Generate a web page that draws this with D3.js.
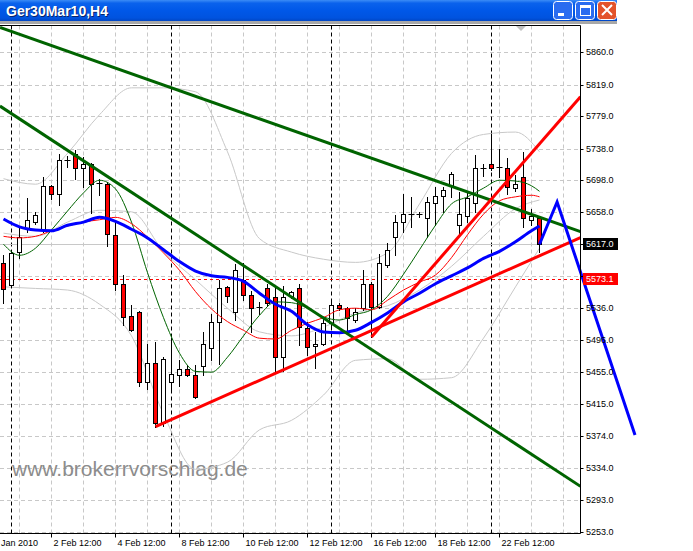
<!DOCTYPE html>
<html><head><meta charset="utf-8">
<script src="https://cdn.jsdelivr.net/npm/d3@7/dist/d3.min.js"></script>
<style>html,body{margin:0;padding:0;background:#fff;overflow:hidden}svg{display:block}</style>
</head><body>
<svg id="chart" width="693" height="551"></svg>
<script>
// ---------------- DATA ----------------
const titleText = "Ger30Mar10,H4";
const watermark = "www.brokerrvorschlag.de";
// H4 candles, bar index 0..67
const opens  = [5593,5565,5607,5638,5645,5635,5691,5680,5723,5731,5713,5718,5694.5,5693,5629,5566,5526,5531,5442,5466,5391,5442,5452,5459,5451,5463,5486,5518,5563,5531,5572,5553,5536,5561,5550,5474,5551,5561,5511,5488,5491,5517,5540,5536,5521,5536,5567,5538,5591,5626,5645,5655,5654,5650,5669,5678,5691,5641,5653,5669,5713,5719,5714,5714,5688,5702,5648,5650];
const highs  = [5603,5607,5637,5675,5658,5702,5692,5731,5729,5736,5728,5720,5699,5696,5645,5578,5540,5532,5491,5493,5474,5498,5470,5464,5464,5506,5529,5572,5564,5592,5593,5558,5544,5567,5563,5564,5558,5566,5518,5506,5523,5544,5542,5538,5536,5584,5569,5605,5618,5654,5681,5677,5658,5677,5690,5690,5709,5683,5683,5730,5718,5756,5738,5726,5705,5734,5662,5653];
const lows   = [5542,5563,5599,5633,5643,5633,5674,5667,5715,5700,5690,5656,5679,5615,5559,5515,5507,5437,5434,5386,5387,5434,5437,5450,5422,5451,5470,5465,5544,5521,5546,5506,5529,5539,5454,5456,5549,5489,5477,5460,5489,5513,5534,5508,5518,5534,5500,5536,5588,5603,5633,5639,5651,5626,5641,5658,5677,5629,5645,5658,5704,5711,5702,5681,5685,5639,5641,5607];
const closes = [5560,5606,5626,5648,5654,5691,5680,5724,5724,5713,5719,5693,5694,5630,5566,5525,5508,5442,5466,5391,5472,5453,5459,5451,5424,5491,5518,5562,5551,5584,5553,5536,5537,5542,5474,5550,5556,5512,5487,5491,5517,5540,5536,5523,5531,5567,5537,5593,5610,5645,5655,5654,5655,5670,5678,5686,5706,5655,5676,5713,5714,5714,5714.5,5690,5693,5650,5653,5617];

// moving averages read every 2 bars (bars 0,2,...,66, 67)
const maBars2 = [0,2,4,6,8,10,12,14,16,18,20,22,24,26,28,30,32,34,36,38,40,42,44,46,48,50,52,54,56,58,60,62,64,66,67];
const maBlue  = [5649,5639,5635,5634,5641,5645,5651,5646,5636,5625,5610,5595,5583,5577,5575,5570,5555,5541,5532,5515,5506,5505,5508,5518,5530,5544,5555,5567,5577,5587,5599,5608,5620,5634,5640];
const maRed   = [5627,5625,5627,5634,5640,5645,5648,5651,5643,5626,5606,5584,5557,5535,5519,5508,5498,5497,5508,5517,5524,5534,5536,5534,5546,5559,5569,5578,5600,5629,5655,5672,5677,5679,5677];
const maGreen = [5617,5603,5612,5635,5659,5682,5698,5687,5645,5581,5524,5479,5456,5455,5474,5501,5527,5544,5543,5536,5525,5521,5528,5534,5551,5579,5610,5641,5668,5677,5688,5698,5697,5691,5684];

// Bollinger bands read every 4 bars
const bbBars  = [0,4,8,12,16,20,24,28,32,36,40,44,48,52,56,60,64,67];
const bbUpper = [5700,5693,5732,5781,5815,5815,5810,5734,5624,5607,5598,5594,5606,5668,5732,5756,5759,5734];
const bbMid   = [5631,5627,5645,5660,5658,5608,5572,5536,5506,5501,5512,5530,5539,5559,5589,5627,5662,5673];
const bbLower = [5563,5561,5559,5541,5501,5402,5332,5341,5382,5394,5426,5470,5472,5446,5448,5498,5563,5612];

// trend lines: [bar, price] anchors
const greenLine1 = [[10,5854.2],[60,5676.1]];
const greenLine2 = [[10,5722.6],[50,5457.2]];
const redLineA   = [[19,5386],[46,5507.7]];
const redLineB   = [[46,5499.5],[65,5720.8]];
const forecast   = [[67,5617],[69.2,5670.4],[78.94,5375.4]];

const priceTicks = [5860.0,5819.0,5779.0,5738.0,5698.0,5658.0,5617.0,5577.0,5536.0,5496.0,5455.0,5415.0,5374.0,5334.0,5293.0,5253.0];
const hiddenTickLabels = [5617.0,5577.0]; // covered by the price boxes
const dateLabels = ["Jan 2010","2 Feb 12:00","4 Feb 12:00","8 Feb 12:00","10 Feb 12:00","12 Feb 12:00","16 Feb 12:00","18 Feb 12:00","22 Feb 12:00"];
const dateBars   = [-0.55,6,14,22,30,38,46,54,62];
const weekStarts = [1,21,41,61];
const bidPrice = 5617.0;
const levelPrice = 5573.1;

// ---------------- DRAW ----------------
const svg = d3.select("#chart");
const FONT = "'Liberation Sans', Arial, sans-serif";
const plotL = 0, plotR = 580.5, plotT = 25.5, plotB = 533.5;
const x = d3.scaleLinear().domain([0,67]).range([3.5,539.5]);
const y = d3.scaleLinear().domain([5253,5860]).range([531.7,52.3]);
const cy = p => Math.round(y(p)) + 0.5;

// title bar
const defs = svg.append("defs");
const tg = defs.append("linearGradient").attr("id","tb").attr("x1",0).attr("y1",0).attr("x2",0).attr("y2",1);
[[0,"#3b8cf6"],[0.15,"#0a62ec"],[0.5,"#0058e8"],[0.85,"#0053df"],[1,"#0046c4"]]
  .forEach(([o,c])=>tg.append("stop").attr("offset",o).attr("stop-color",c));
svg.append("rect").attr("x",0).attr("y",0).attr("width",617).attr("height",21).attr("fill","url(#tb)");
svg.append("rect").attr("x",0).attr("y",21).attr("width",617).attr("height",3).attr("fill","#a8a8a8");
svg.append("text").attr("x",7).attr("y",17).text(titleText)
  .attr("font-family",FONT).attr("font-weight","bold").attr("font-size",14).attr("fill","#0a246a");
svg.append("text").attr("x",6).attr("y",16).text(titleText)
  .attr("font-family",FONT).attr("font-weight","bold").attr("font-size",14).attr("fill","#fff");
// window buttons
const btn = (bx, fill) => svg.append("rect").attr("x",bx+0.5).attr("y",1.5).attr("width",19).attr("height",18)
  .attr("rx",3).attr("fill",fill).attr("stroke","#fff").attr("stroke-width",1);
btn(553,"#2a6cf0"); btn(575,"#2a6cf0"); btn(597,"#e3532b");
svg.append("rect").attr("x",558).attr("y",13).attr("width",6).attr("height",3).attr("fill","#fff");
svg.append("rect").attr("x",580.5).attr("y",5.5).attr("width",10).attr("height",10).attr("fill","none").attr("stroke","#fff").attr("stroke-width",1);
svg.append("rect").attr("x",580).attr("y",5).attr("width",11).attr("height",3).attr("fill","#fff");
svg.append("path").attr("d","M602,5L612,15M612,5L602,15").attr("stroke","#fff").attr("stroke-width",2);

// clip for plot
defs.append("clipPath").attr("id","plot").append("rect")
  .attr("x",plotL).attr("y",plotT).attr("width",plotR-plotL).attr("height",plotB-plotT);

const grid = svg.append("g");
grid.selectAll("line.h").data(priceTicks).join("line")
  .attr("x1",plotL).attr("x2",plotR).attr("y1",d=>cy(d)).attr("y2",d=>cy(d))
  .attr("stroke","#c8c8c8").attr("stroke-dasharray","4,3");
const gridBars = d3.range(2, 72, 4).filter(b => x(b) < plotR);
grid.selectAll("line.v").data(gridBars).join("line")
  .attr("x1",d=>x(d)).attr("x2",d=>x(d)).attr("y1",plotT).attr("y2",plotB)
  .attr("stroke","#c8c8c8").attr("stroke-dasharray","4,3");
svg.append("g").selectAll("line").data(weekStarts).join("line")
  .attr("x1",d=>x(d)).attr("x2",d=>x(d)).attr("y1",plotT).attr("y2",plotB)
  .attr("stroke","#000").attr("stroke-dasharray","4,3");

// bid line & level line
svg.append("line").attr("x1",plotL).attr("x2",plotR).attr("y1",cy(bidPrice)).attr("y2",cy(bidPrice))
  .attr("stroke","#c8c8c8");
svg.append("line").attr("x1",plotL).attr("x2",plotR).attr("y1",cy(levelPrice)).attr("y2",cy(levelPrice))
  .attr("stroke","#ff0000").attr("stroke-dasharray","3,3");

// watermark
svg.append("text").attr("x",12).attr("y",476).text(watermark)
  .attr("font-family",FONT).attr("font-size",21).attr("fill","#8c8c8c");

// Bollinger bands (behind candles)
const mkLine = (bars, vals) => d3.line().x((d,k)=>x(bars[k])).y(d=>y(d)).curve(d3.curveMonotoneX)(vals);
const bg = svg.append("g").attr("clip-path","url(#plot)");
[bbUpper,bbMid,bbLower].forEach(v=>bg.append("path").attr("d",mkLine(bbBars,v)).attr("fill","none").attr("stroke","#c8c8c8"));

// candles
const cg = svg.append("g").attr("clip-path","url(#plot)");
const idx = d3.range(opens.length);
cg.selectAll("line.w").data(idx).join("line")
  .attr("x1",i=>x(i)).attr("x2",i=>x(i))
  .attr("y1",i=>Math.round(y(highs[i]))).attr("y2",i=>Math.round(y(lows[i]))+1)
  .attr("stroke","#000");
idx.forEach(i=>{
  const top = Math.round(y(Math.max(opens[i],closes[i])));
  const bot = Math.round(y(Math.min(opens[i],closes[i])));
  const bull = closes[i] >= opens[i];
  if (bot - top < 2) {
    cg.append("line").attr("x1",x(i)-3).attr("x2",x(i)+3).attr("y1",top+0.5).attr("y2",top+0.5).attr("stroke","#000");
  } else {
    cg.append("rect").attr("x",x(i)-2).attr("y",top+0.5).attr("width",4).attr("height",bot-top)
      .attr("fill", bull ? "#fff" : "#ff0000").attr("stroke","#000");
  }
});

// moving averages
const lg = svg.append("g").attr("clip-path","url(#plot)");
lg.append("path").attr("d",mkLine(maBars2,maGreen)).attr("fill","none").attr("stroke","#006400");
lg.append("path").attr("d",mkLine(maBars2,maRed)).attr("fill","none").attr("stroke","#ff0000");
lg.append("path").attr("d",mkLine(maBars2,maBlue)).attr("fill","none").attr("stroke","#0000ff").attr("stroke-width",3);

// trend lines (extended rays)
const tl = svg.append("g").attr("clip-path","url(#plot)");
function ray(a, extendLeft, color) {
  const [b1,p1] = a[0], [b2,p2] = a[1];
  const x1 = x(b1), y1 = y(p1), x2 = x(b2), y2 = y(p2);
  const s = (y2-y1)/(x2-x1);
  const xs = extendLeft ? plotL : x1, xe = plotR;
  tl.append("line").attr("x1",xs).attr("y1",y1+(xs-x1)*s).attr("x2",xe).attr("y2",y1+(xe-x1)*s)
    .attr("stroke",color).attr("stroke-width",3);
}
ray(greenLine1,true,"#006400");
ray(greenLine2,true,"#006400");
ray(redLineA,false,"#ff0000");
ray(redLineB,false,"#ff0000");
svg.append("path").attr("d", d3.line().x(d=>x(d[0])).y(d=>y(d[1]))(forecast))
  .attr("fill","none").attr("stroke","#0000ff").attr("stroke-width",3);

// chart shift marker
svg.append("path").attr("d","M516,26L526,26L521,31Z").attr("fill","#c0c0c0");

// axes
svg.append("line").attr("x1",plotL).attr("x2",plotR).attr("y1",plotT).attr("y2",plotT).attr("stroke","#000");
svg.append("line").attr("x1",plotR).attr("x2",plotR).attr("y1",plotT).attr("y2",plotB).attr("stroke","#000");
svg.append("line").attr("x1",plotL).attr("x2",plotR).attr("y1",plotB).attr("y2",plotB).attr("stroke","#000");
const ya = svg.append("g");
ya.selectAll("line").data(priceTicks).join("line")
  .attr("x1",plotR).attr("x2",plotR+3).attr("y1",d=>cy(d)).attr("y2",d=>cy(d)).attr("stroke","#000");
ya.selectAll("text").data(priceTicks.filter(p=>!hiddenTickLabels.includes(p))).join("text")
  .attr("x",586).attr("y",d=>y(d)).attr("dy","0.35em").text(d=>d.toFixed(1))
  .attr("font-family",FONT).attr("font-size",9).attr("fill","#000");
const xa = svg.append("g");
xa.selectAll("line").data(dateBars.filter(b=>b>=0)).join("line")
  .attr("x1",d=>x(d)).attr("x2",d=>x(d)).attr("y1",plotB).attr("y2",plotB+4).attr("stroke","#000");
xa.selectAll("text").data(dateLabels).join("text")
  .attr("x",(d,k)=>x(dateBars[k])+2).attr("y",546).text(d=>d)
  .attr("font-family",FONT).attr("font-size",9).attr("fill","#000");

// price boxes
function box(p, bgc) {
  const yy = y(p);
  svg.append("rect").attr("x",583).attr("y",Math.round(yy)-6).attr("width",35).attr("height",12).attr("fill",bgc);
  svg.append("text").attr("x",586).attr("y",yy).attr("dy","0.35em").text(p.toFixed(1))
    .attr("font-family",FONT).attr("font-size",9).attr("fill","#fff");
}
box(bidPrice,"#000");
box(levelPrice,"#ff0000");
</script>
</body></html>
